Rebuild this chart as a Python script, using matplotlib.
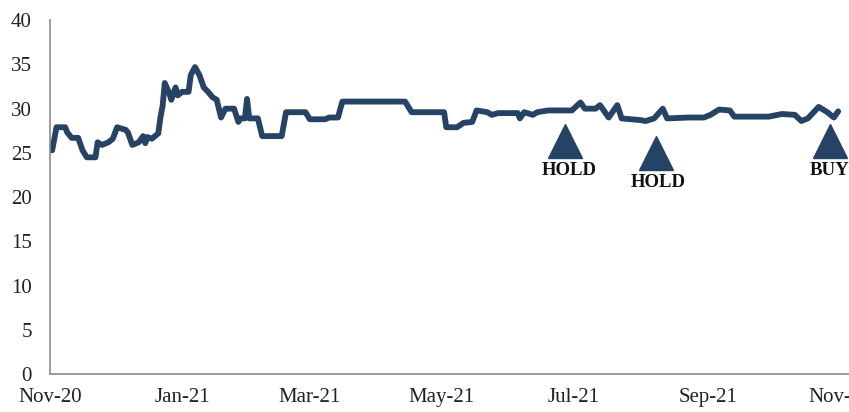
import datetime
import matplotlib
matplotlib.use("Agg")
import matplotlib.dates as mdates
import matplotlib.pyplot as plt

# price series
dates = ["2020-11-01", "2020-11-02", "2020-11-04", "2020-11-08", "2020-11-09",
         "2020-11-11", "2020-11-14", "2020-11-16", "2020-11-18", "2020-11-22",
         "2020-11-23", "2020-11-25", "2020-11-28", "2020-11-30", "2020-12-02",
         "2020-12-06", "2020-12-07", "2020-12-09", "2020-12-12", "2020-12-14",
         "2020-12-15", "2020-12-16", "2020-12-18", "2020-12-21", "2020-12-22",
         "2020-12-23", "2020-12-24", "2020-12-26", "2020-12-27", "2020-12-29",
         "2020-12-30", "2021-01-01", "2021-01-04", "2021-01-05", "2021-01-07",
         "2021-01-09", "2021-01-11", "2021-01-13", "2021-01-15", "2021-01-17",
         "2021-01-19", "2021-01-21", "2021-01-25", "2021-01-27", "2021-01-28",
         "2021-01-30", "2021-01-31", "2021-02-01", "2021-02-05", "2021-02-07",
         "2021-02-16", "2021-02-18", "2021-02-27", "2021-03-01", "2021-03-08",
         "2021-03-10", "2021-03-14", "2021-03-16", "2021-04-14", "2021-04-17",
         "2021-05-02", "2021-05-03", "2021-05-08", "2021-05-11", "2021-05-15",
         "2021-05-17", "2021-05-22", "2021-05-24", "2021-05-27", "2021-06-05",
         "2021-06-06", "2021-06-08", "2021-06-12", "2021-06-14", "2021-06-19",
         "2021-06-30", "2021-07-04", "2021-07-06", "2021-07-11", "2021-07-13",
         "2021-07-17", "2021-07-21", "2021-07-23", "2021-08-01", "2021-08-03",
         "2021-08-07", "2021-08-11", "2021-08-13", "2021-08-23", "2021-08-30",
         "2021-09-02", "2021-09-06", "2021-09-11", "2021-09-13", "2021-09-29",
         "2021-10-05", "2021-10-11", "2021-10-14", "2021-10-17", "2021-10-22",
         "2021-10-26", "2021-10-29", "2021-10-31"]
prices = [25.3, 25.3, 27.9, 27.9, 27.3,
          26.7, 26.7, 25.3, 24.5, 24.5,
          26.2, 25.9, 26.2, 26.6, 27.9,
          27.6, 27.3, 25.9, 26.2, 26.9,
          26.1, 26.8, 26.6, 27.2, 29.0,
          30.3, 32.9, 31.8, 31.0, 32.4,
          31.5, 31.9, 31.9, 33.8, 34.7,
          33.8, 32.4, 31.9, 31.3, 31.0,
          29.0, 30.0, 30.0, 28.5, 28.9,
          28.9, 31.1, 28.9, 28.9, 26.9,
          26.9, 29.6, 29.6, 28.8, 28.8,
          29.0, 29.0, 30.8, 30.8, 29.6,
          29.6, 27.9, 27.9, 28.4, 28.5,
          29.8, 29.6, 29.3, 29.5, 29.5,
          28.9, 29.6, 29.3, 29.6, 29.8,
          29.8, 30.7, 30.0, 30.0, 30.4,
          29.0, 30.4, 28.9, 28.7, 28.6,
          28.9, 30.0, 28.9, 29.0, 29.0,
          29.3, 29.9, 29.8, 29.1, 29.1,
          29.4, 29.3, 28.6, 28.9, 30.2,
          29.6, 29.0, 29.7]

# rating markers
signal_dates = ["2021-06-27", "2021-08-08", "2021-10-27"]
signal_text_dates = ["2021-06-29", "2021-08-09", "2021-10-27"]
signal_marker_y = [26.3, 25.0, 26.3]
signal_text_y = [23.0, 21.6, 23.0]
signal_labels = ["HOLD", "HOLD", "BUY"]

navy = "#264265"


def to_date(s):
    return datetime.datetime.strptime(s, "%Y-%m-%d")


def main():
    plt.rcParams["font.family"] = ["Liberation Serif", "DejaVu Serif"]
    fig = plt.figure(figsize=(8.49, 4.12), dpi=100)
    ax = fig.add_axes([0.0589, 0.092, 0.9411, 0.859])

    x = [to_date(d) for d in dates]
    ax.plot(x, prices, color=navy, linewidth=4.2, solid_joinstyle="round",
            solid_capstyle="round")

    for d, td, my, ty, lab in zip(signal_dates, signal_text_dates, signal_marker_y,
                                  signal_text_y, signal_labels):
        ax.plot([to_date(d)], [my], marker="^", markersize=25, color=navy, linestyle="none")
        ax.text(to_date(td), ty, lab, ha="center", va="center",
                fontsize=13.5, fontweight="bold", color="#111111")

    ax.set_xlim(to_date("2020-11-01"), to_date("2021-11-05"))
    ax.set_ylim(0, 40)
    ax.set_yticks(range(0, 41, 5))
    ax.xaxis.set_major_locator(mdates.MonthLocator(bymonth=[1, 3, 5, 7, 9, 11]))
    ax.xaxis.set_major_formatter(mdates.DateFormatter("%b-%y"))

    for side in ["top", "right"]:
        ax.spines[side].set_visible(False)
    for side in ["left", "bottom"]:
        ax.spines[side].set_color("#8c8c8c")
        ax.spines[side].set_linewidth(1.2)
    ax.tick_params(length=0, labelsize=15, colors="#222222")
    ax.tick_params(axis="x", pad=10)
    ax.tick_params(axis="y", pad=13)

    fig.savefig("out.png", dpi=100)


if __name__ == "__main__":
    main()
